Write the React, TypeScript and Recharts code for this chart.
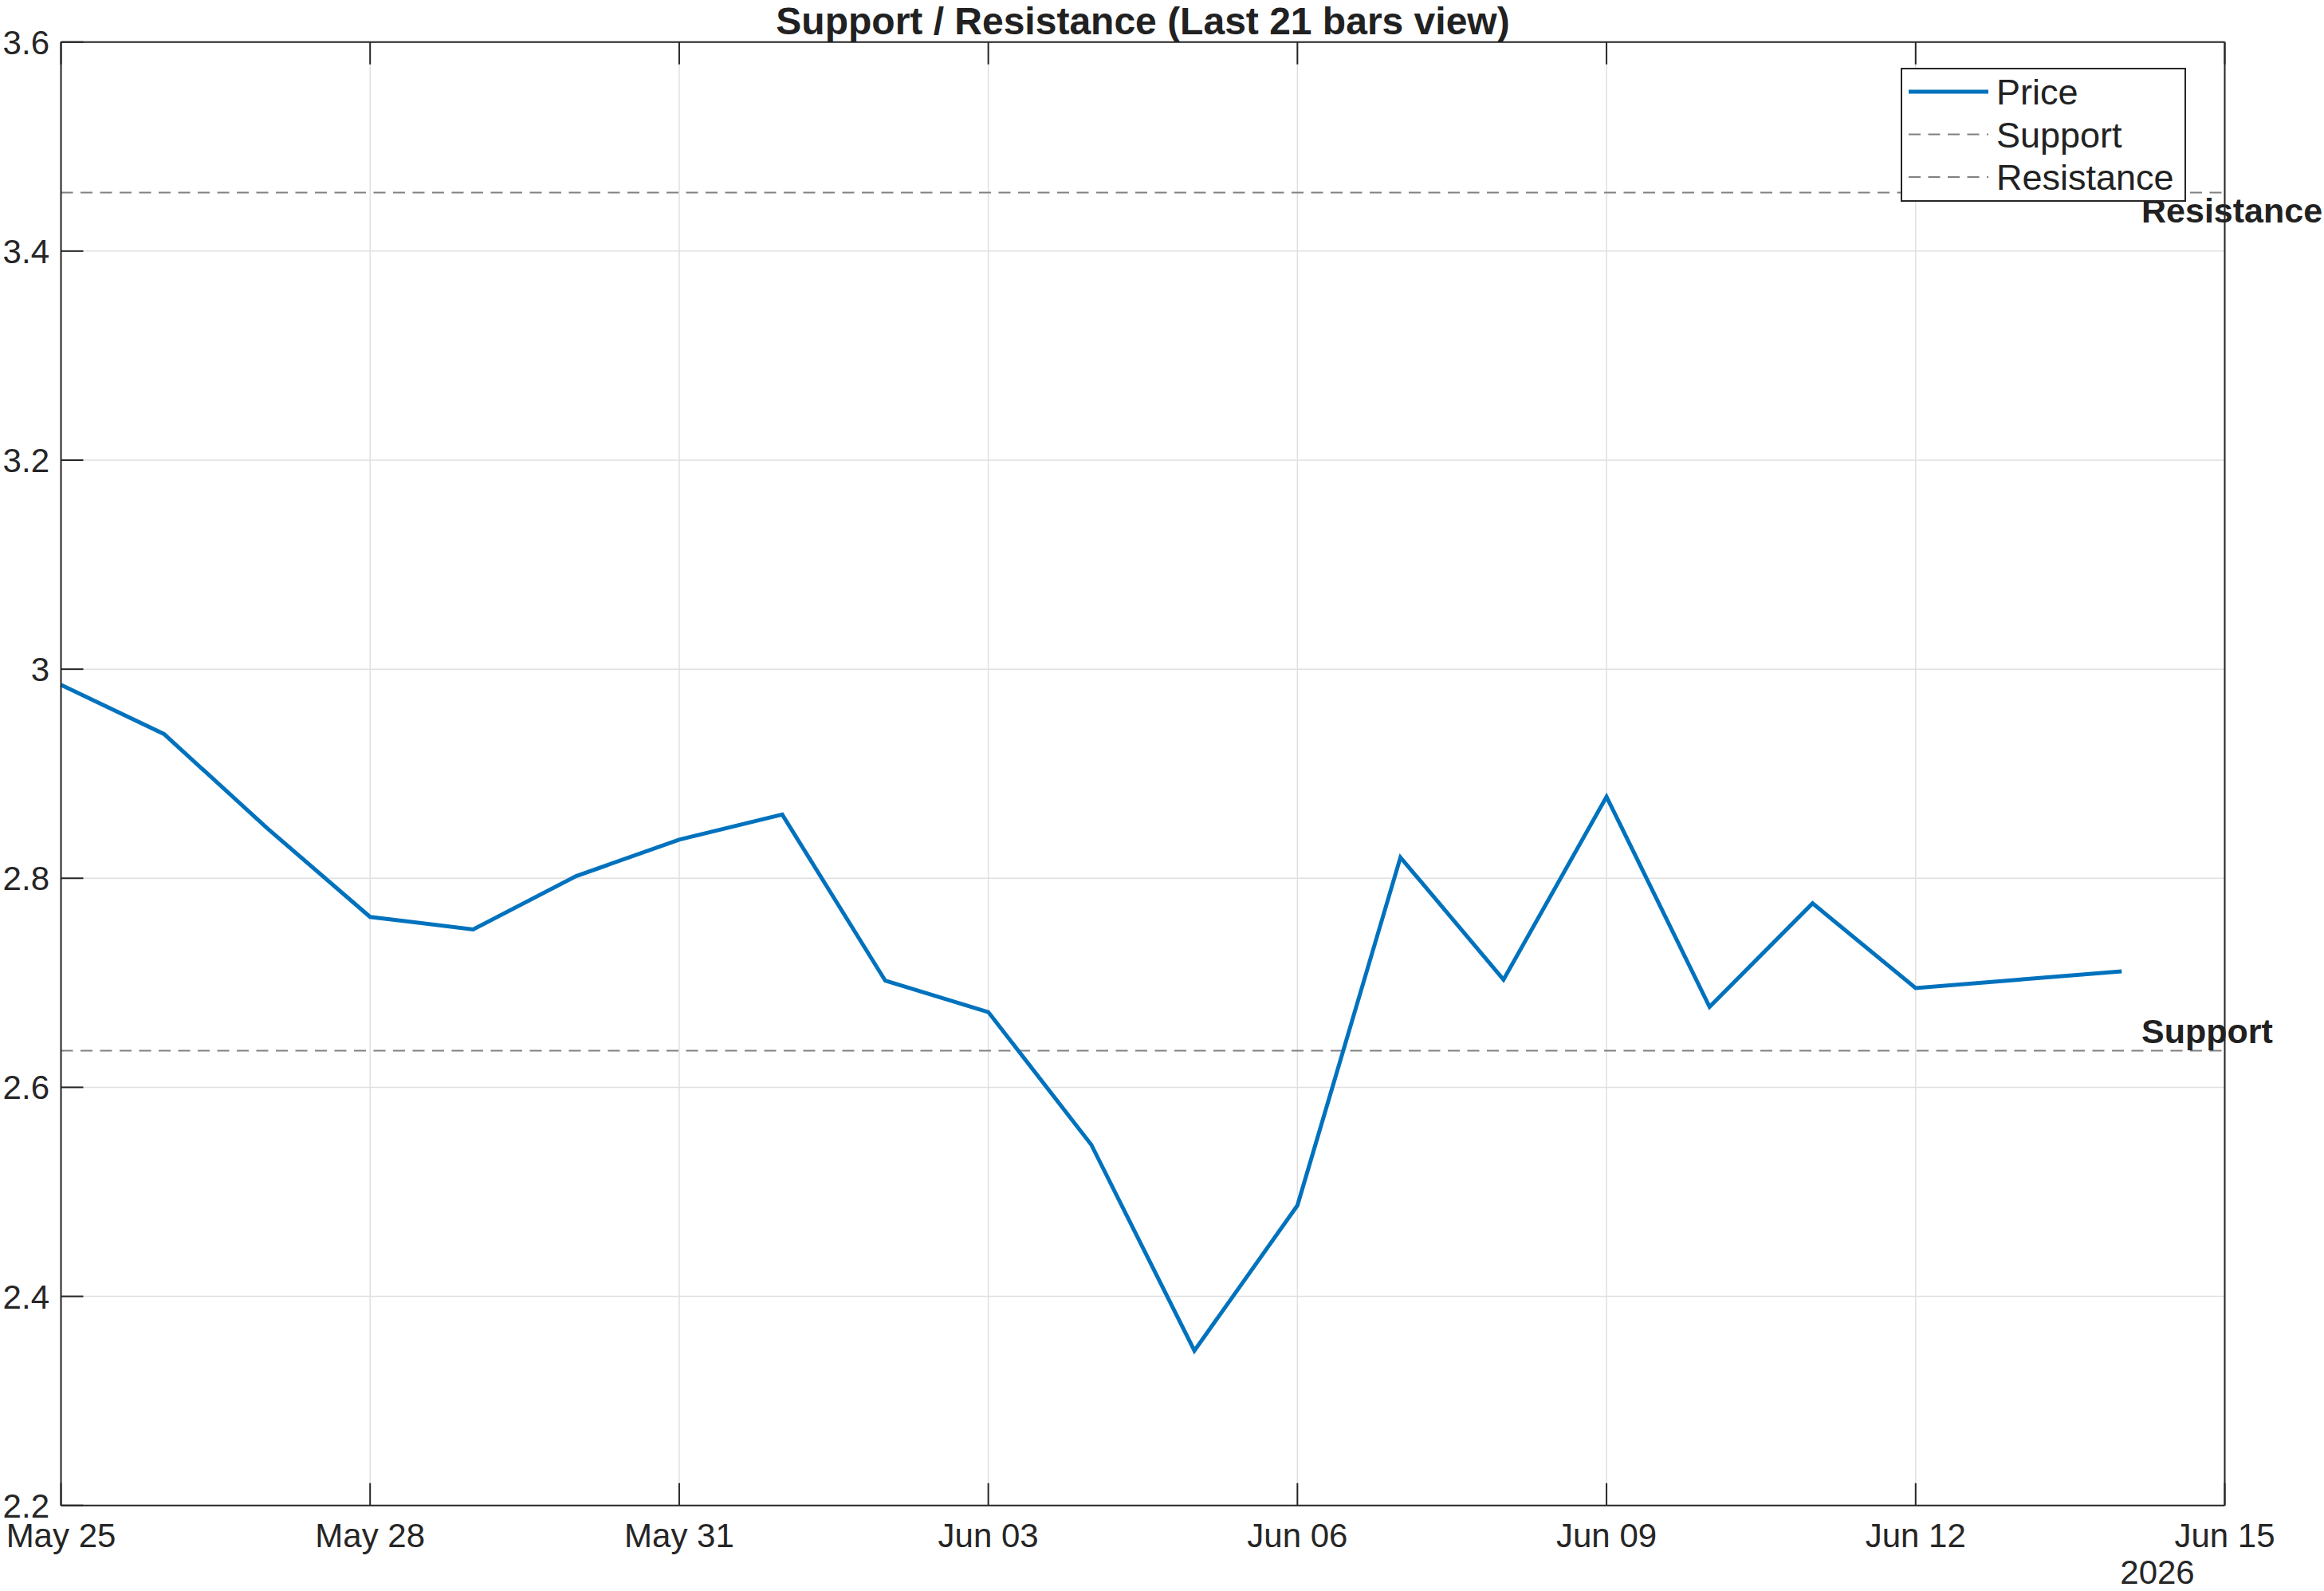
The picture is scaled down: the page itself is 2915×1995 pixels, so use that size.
import { CartesianGrid, Legend, Line, LineChart, ReferenceLine, XAxis, YAxis } from 'recharts'

// last 21 daily bars
const dates = [
  '2026-05-25', '2026-05-26', '2026-05-27', '2026-05-28', '2026-05-29', '2026-05-30', '2026-05-31',
  '2026-06-01', '2026-06-02', '2026-06-03', '2026-06-04', '2026-06-05', '2026-06-06', '2026-06-07',
  '2026-06-08', '2026-06-09', '2026-06-10', '2026-06-11', '2026-06-12', '2026-06-13', '2026-06-14',
]
const price = [
  2.985, 2.938, 2.848, 2.763, 2.751, 2.802, 2.837,
  2.861, 2.702, 2.672, 2.545, 2.348, 2.487, 2.820,
  2.703, 2.878, 2.677, 2.776, 2.695, 2.703, 2.711,
]
const support = 2.635
const resistance = 3.456

const xDomain = ['2026-05-25', '2026-06-15']
const xTicks = ['2026-05-25', '2026-05-28', '2026-05-31', '2026-06-03', '2026-06-06', '2026-06-09', '2026-06-12', '2026-06-15']
const yTicks = [2.2, 2.4, 2.6, 2.8, 3, 3.2, 3.4, 3.6]
const months = ['Jan', 'Feb', 'Mar', 'Apr', 'May', 'Jun', 'Jul', 'Aug', 'Sep', 'Oct', 'Nov', 'Dec']

const title = 'Support / Resistance (Last 21 bars view)'
const yearLabel = '2026'

const toMs = (d: string) => {
  const [y, m, day] = d.split('-').map(Number)
  return Date.UTC(y, m - 1, day)
}
const fmtDate = (ms: number) => {
  const d = new Date(ms)
  return `${months[d.getUTCMonth()]} ${String(d.getUTCDate()).padStart(2, '0')}`
}

const data = dates.map((d, i) => ({ t: toMs(d), price: price[i] }))

const FONT = '"Liberation Sans", Arial, Helvetica, sans-serif'
const INK = '#262626'
const BLUE = '#0072BD'
const DASH_GRAY = '#808080'
const TICK_LEN = 28

const W = 2915
const H = 1995
const PLOT = { left: 76.5, top: 52.7, right: 2790.5, bottom: 1887.7 }

const LeftTick = ({ x, y, payload }: any) => (
  <g>
    <line x1={x} x2={x + TICK_LEN} y1={y} y2={y} stroke={INK} strokeWidth={2} />
    <text x={x - 14.5} y={y + 15} textAnchor="end" fontSize={42} fontFamily={FONT} fill={INK}>
      {String(payload.value)}
    </text>
  </g>
)
const RightTick = ({ x, y }: any) => (
  <line x1={x} x2={x - TICK_LEN} y1={y} y2={y} stroke={INK} strokeWidth={2} />
)
const BottomTick = ({ x, y, payload }: any) => (
  <g>
    <line x1={x} x2={x} y1={y} y2={y - TICK_LEN} stroke={INK} strokeWidth={2} />
    <text x={x} y={y + 52} textAnchor="middle" fontSize={42} fontFamily={FONT} fill={INK}>
      {fmtDate(payload.value)}
    </text>
  </g>
)
const TopTick = ({ x, y }: any) => (
  <line x1={x} x2={x} y1={y} y2={y + TICK_LEN} stroke={INK} strokeWidth={2} />
)

const levelLabel = (text: string, below: boolean) => (props: any) => {
  const vb = props.viewBox || {}
  return (
    <text
      x={vb.x + vb.width - 104.5}
      y={below ? vb.y + 38 : vb.y - 10}
      fontSize={43}
      fontWeight="bold"
      fontFamily={FONT}
      fill="#212121"
    >
      {text}
    </text>
  )
}

const legendItems = [
  { name: 'Price', color: BLUE, width: 5, dash: undefined },
  { name: 'Support', color: DASH_GRAY, width: 2, dash: '15 9.5' },
  { name: 'Resistance', color: DASH_GRAY, width: 2, dash: '15 9.5' },
]

const LegendBox = () => (
  <div style={{ width: 358, height: 168, border: `2px solid ${INK}`, background: '#fff', boxSizing: 'border-box' }}>
    <svg width={354} height={164}>
      {legendItems.map((it, i) => {
        const cy = 28 + i * 53.5
        return (
          <g key={it.name}>
            <line x1={8} x2={108} y1={cy} y2={cy} stroke={it.color} strokeWidth={it.width} strokeDasharray={it.dash} />
            <text x={118} y={cy + 16} fontSize={45} fontFamily={FONT} fill="#212121">{it.name}</text>
          </g>
        )
      })}
    </svg>
  </div>
)

export default function App() {
  const domain = [toMs(xDomain[0]), toMs(xDomain[1])]
  const ticksMs = xTicks.map(toMs)
  return (
    <div style={{ position: 'absolute', left: 0, top: 0, width: W, height: H, background: '#fff' }}>
      <LineChart
        width={W}
        height={H}
        data={data}
        margin={{ top: PLOT.top - 1, right: W - PLOT.right - 1, bottom: H - PLOT.bottom - 30, left: PLOT.left - 60 }}
      >
        <CartesianGrid stroke="#e0e0e0" strokeWidth={1.5} />
        <XAxis
          dataKey="t"
          type="number"
          domain={domain}
          ticks={ticksMs}
          interval={0}
          height={30}
          tickSize={0}
          tickMargin={0}
          tickLine={false}
          axisLine={{ stroke: INK, strokeWidth: 2 }}
          tick={<BottomTick />}
        />
        <XAxis
          xAxisId="top"
          orientation="top"
          dataKey="t"
          type="number"
          domain={domain}
          ticks={ticksMs}
          interval={0}
          height={1}
          tickSize={0}
          tickMargin={0}
          tickLine={false}
          axisLine={{ stroke: INK, strokeWidth: 2 }}
          tick={<TopTick />}
        />
        <YAxis
          type="number"
          domain={[2.2, 3.6]}
          ticks={yTicks}
          interval={0}
          width={60}
          tickSize={0}
          tickMargin={0}
          tickLine={false}
          axisLine={{ stroke: INK, strokeWidth: 2 }}
          tick={<LeftTick />}
        />
        <YAxis
          yAxisId="right"
          orientation="right"
          type="number"
          domain={[2.2, 3.6]}
          ticks={yTicks}
          interval={0}
          width={1}
          tickSize={0}
          tickMargin={0}
          tickLine={false}
          axisLine={{ stroke: INK, strokeWidth: 2 }}
          tick={<RightTick />}
        />
        <ReferenceLine y={support} stroke={DASH_GRAY} strokeWidth={2} strokeDasharray="15 9.5" label={levelLabel('Support', false)} />
        <ReferenceLine y={resistance} stroke={DASH_GRAY} strokeWidth={2} strokeDasharray="15 9.5" label={levelLabel('Resistance', true)} />
        <Line
          type="linear"
          dataKey="price"
          name="Price"
          stroke={BLUE}
          strokeWidth={5}
          dot={false}
          activeDot={false}
          isAnimationActive={false}
        />
        <Legend
          layout="vertical"
          align="center"
          verticalAlign="middle"
          content={<LegendBox />}
          wrapperStyle={{ position: 'absolute', left: 2384, top: 85, width: 358, height: 168 }}
        />
      </LineChart>
      <svg width={W} height={H} style={{ position: 'absolute', left: 0, top: 0, pointerEvents: 'none' }}>
        <text x={(PLOT.left + PLOT.right) / 2} y={43} textAnchor="middle" fontSize={48} fontWeight="bold" fontFamily={FONT} fill="#212121">
          {title}
        </text>
        <text x={2706} y={1986} textAnchor="middle" fontSize={42} fontFamily={FONT} fill={INK}>
          {yearLabel}
        </text>
      </svg>
    </div>
  )
}
